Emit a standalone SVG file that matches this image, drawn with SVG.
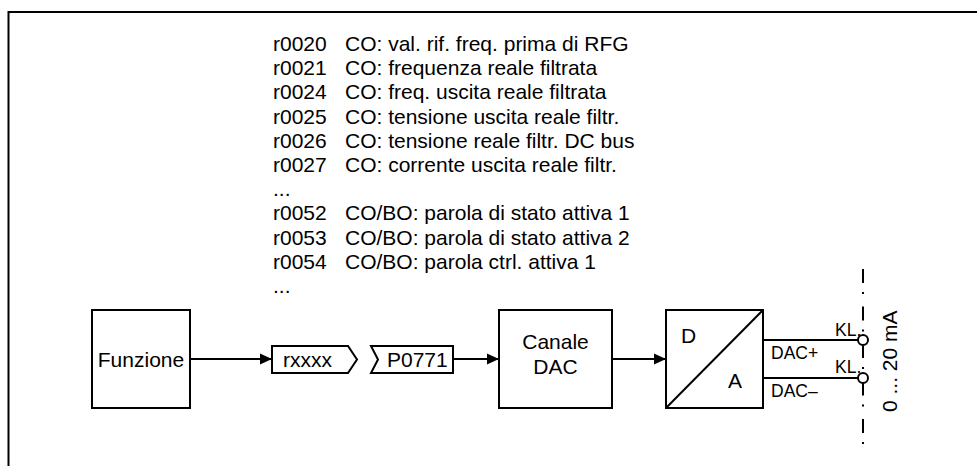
<svg xmlns="http://www.w3.org/2000/svg" width="977" height="466" viewBox="0 0 977 466">
<style>
text{font-family:"Liberation Sans",Arial,sans-serif;font-size:21px;fill:#000}
.sm{font-size:17.5px}
.box{fill:#fff;stroke:#000;stroke-width:2}
.ln{fill:none;stroke:#000;stroke-width:2}
</style>
<defs>
<marker id="ah" markerWidth="12" markerHeight="12" refX="12" refY="6" orient="auto" markerUnits="userSpaceOnUse">
<path d="M0,0.5 L12,6 L0,11.5 Z" fill="#000"/>
</marker>
</defs>
<rect width="977" height="466" fill="#fff"/>
<path class="ln" d="M8.5,466 V12 H977"/>
<g id="list">
<text x="273" y="51">r0020</text><text x="345" y="51">CO: val. rif. freq. prima di RFG</text>
<text x="273" y="75.2">r0021</text><text x="345" y="75.2">CO: frequenza reale filtrata</text>
<text x="273" y="99.4">r0024</text><text x="345" y="99.4">CO: freq. uscita reale filtrata</text>
<text x="273" y="123.6">r0025</text><text x="345" y="123.6">CO: tensione uscita reale filtr.</text>
<text x="273" y="147.8">r0026</text><text x="345" y="147.8">CO: tensione reale filtr. DC bus</text>
<text x="273" y="172">r0027</text><text x="345" y="172">CO: corrente uscita reale filtr.</text>
<text x="273" y="196.2">...</text>
<text x="273" y="220.4">r0052</text><text x="345" y="220.4">CO/BO: parola di stato attiva 1</text>
<text x="273" y="244.6">r0053</text><text x="345" y="244.6">CO/BO: parola di stato attiva 2</text>
<text x="273" y="268.8">r0054</text><text x="345" y="268.8">CO/BO: parola ctrl. attiva 1</text>
<text x="273" y="293">...</text>
</g>
<g id="connectors">
<line class="ln" x1="190" y1="359" x2="272" y2="359" marker-end="url(#ah)"/>
<line class="ln" x1="453" y1="359" x2="499" y2="359" marker-end="url(#ah)"/>
<line class="ln" x1="612" y1="359" x2="666" y2="359" marker-end="url(#ah)"/>
<line class="ln" x1="763" y1="340" x2="858" y2="340"/>
<line class="ln" x1="763" y1="378" x2="858" y2="378"/>
<line class="ln" x1="863" y1="269" x2="863" y2="444" stroke-dasharray="14 9 2 12.5"/>
</g>
<g id="funzione">
<rect class="box" x="92" y="310" width="98" height="98"/>
<text x="141" y="366.5" text-anchor="middle">Funzione</text>
</g>
<g id="rxxxx">
<polygon class="box" points="272,346 348,346 357,359.5 348,373 272,373"/>
<text x="283" y="366.5">rxxxx</text>
</g>
<g id="p0771">
<polygon class="box" points="371,346 453,346 453,373 371,373 378,359.5"/>
<text x="387" y="366.5">P0771</text>
</g>
<g id="canale">
<rect class="box" x="499" y="310" width="113" height="98"/>
<text x="555.5" y="349" text-anchor="middle">Canale</text>
<text x="555.5" y="374" text-anchor="middle">DAC</text>
</g>
<g id="da">
<rect class="box" x="666" y="310" width="97" height="98"/>
<line class="ln" x1="666" y1="408" x2="763" y2="310"/>
<text x="681" y="343">D</text>
<text x="728" y="388">A</text>
</g>
<g id="terminals">
<circle class="box" cx="863" cy="340" r="5"/>
<circle class="box" cx="863" cy="378" r="5"/>
<text class="sm" x="835" y="336">KL.</text>
<text class="sm" x="835" y="373">KL.</text>
<text class="sm" x="771" y="359">DAC+</text>
<text class="sm" x="771" y="397">DAC–</text>
<text x="897" y="412" transform="rotate(-90 897 412)">0 ... 20 mA</text>
</g>
</svg>
